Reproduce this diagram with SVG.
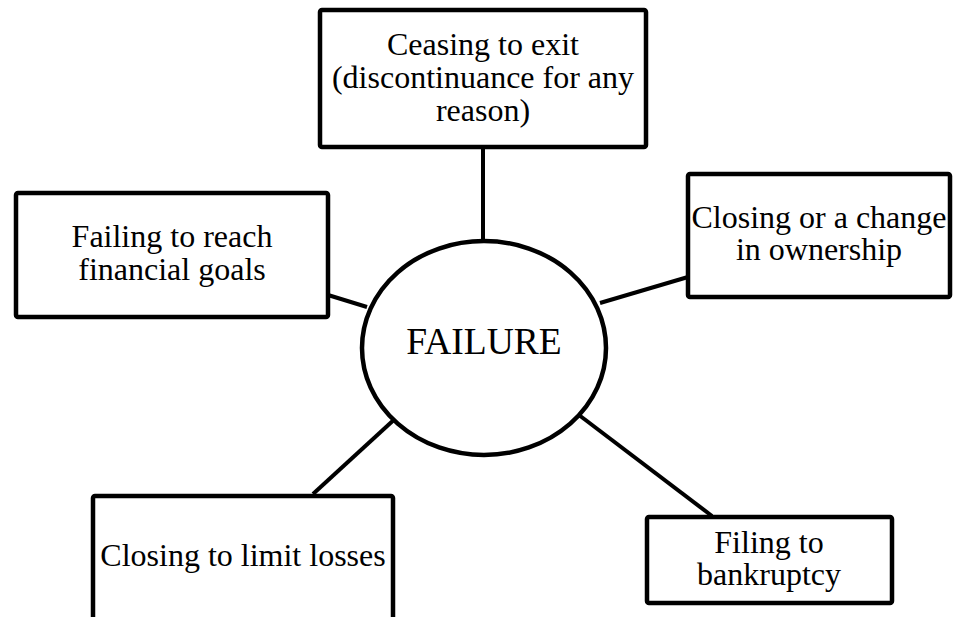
<svg xmlns="http://www.w3.org/2000/svg" width="954" height="617" viewBox="0 0 954 617">
<style>
.box{fill:#fff;stroke:#000;stroke-width:4.5;stroke-linejoin:round}
.conn line{stroke:#000;stroke-width:4}
</style>
<rect width="954" height="617" fill="#fff"/>
<g class="conn" id="connectors">
<line x1="483" y1="147" x2="483" y2="241"/>
<line x1="328" y1="295" x2="367" y2="307"/>
<line x1="600" y1="303" x2="688" y2="277"/>
<line x1="397" y1="417" x2="313" y2="494"/>
<line x1="575" y1="412" x2="712" y2="516"/>
</g>
<g font-family="'Liberation Serif', 'Times New Roman', Times, serif" font-size="32" fill="#000" text-anchor="middle">
<g id="failure">
<ellipse cx="484" cy="348" rx="122" ry="107" fill="#fff" stroke="#000" stroke-width="4.5"/>
<text x="484" y="354" font-size="37.5">FAILURE</text>
</g>
<g id="ceasing">
<rect class="box" x="320" y="10" width="326" height="137" rx="2"/>
<text x="483" y="55">Ceasing to exit</text>
<text x="483" y="88">(discontinuance for any</text>
<text x="483" y="121">reason)</text>
</g>
<g id="financial">
<rect class="box" x="16" y="193" width="312" height="124" rx="2"/>
<text x="172" y="247">Failing to reach</text>
<text x="172" y="280">financial goals</text>
</g>
<g id="ownership">
<rect class="box" x="688" y="174" width="262" height="123" rx="2"/>
<text x="819" y="228">Closing or a change</text>
<text x="819" y="260">in ownership</text>
</g>
<g id="losses">
<rect class="box" x="93" y="496" width="300" height="140" rx="2"/>
<text x="243" y="566">Closing to limit losses</text>
</g>
<g id="bankruptcy">
<rect class="box" x="647" y="517" width="245" height="86" rx="2"/>
<text x="769" y="553">Filing to</text>
<text x="769" y="585">bankruptcy</text>
</g>
</g>
</svg>
